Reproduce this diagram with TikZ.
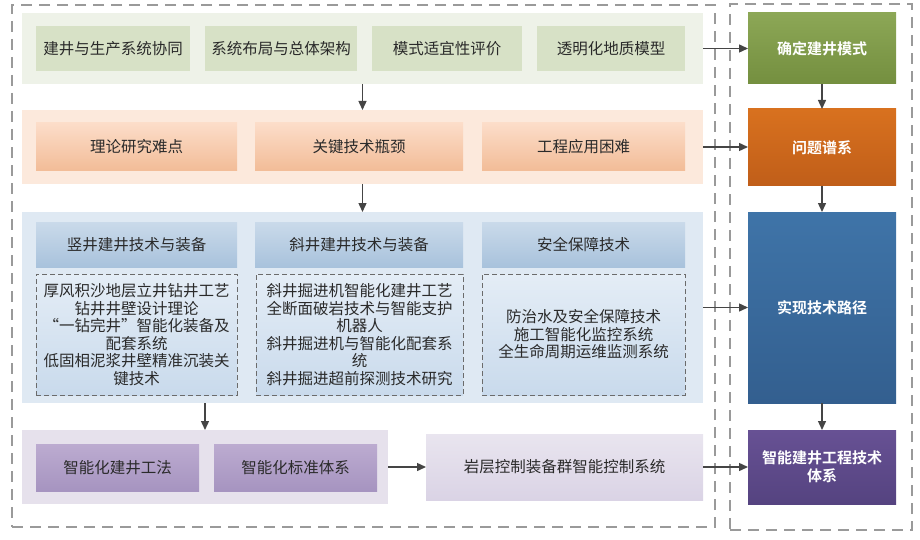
\documentclass[tikz,border=0pt]{standalone}
\usepackage{fontspec}
\setmainfont{Noto Sans CJK SC}[BoldFont={Noto Sans CJK SC Bold}]
\usetikzlibrary{arrows.meta}
\definecolor{txt}{HTML}{2A2A2A}
\definecolor{arrowc}{HTML}{454545}
\definecolor{frame}{HTML}{9A9A9A}
\definecolor{gband}{HTML}{EEF2E8}
\definecolor{gbox}{HTML}{D7E1C6}
\definecolor{oband}{HTML}{FCE9DC}
\definecolor{oboxt}{HTML}{FCDDC9}
\definecolor{oboxb}{HTML}{F2BC97}
\definecolor{bband}{HTML}{DFE9F3}
\definecolor{bheadt}{HTML}{CADAEA}
\definecolor{bheadb}{HTML}{A8C2DC}
\definecolor{bdasht}{HTML}{E4EDF6}
\definecolor{bdashb}{HTML}{C9DAEC}
\definecolor{pband}{HTML}{E6E1EC}
\definecolor{pboxt}{HTML}{BCABD0}
\definecolor{pboxb}{HTML}{A694C0}
\definecolor{prockt}{HTML}{E9E5EF}
\definecolor{prockb}{HTML}{DAD3E5}
\definecolor{rgt}{HTML}{8CA756}
\definecolor{rgb}{HTML}{748F3F}
\definecolor{rot}{HTML}{D8711F}
\definecolor{rob}{HTML}{C05E19}
\definecolor{rbt}{HTML}{3F74A8}
\definecolor{rbb}{HTML}{335F8F}
\definecolor{rpt}{HTML}{675194}
\definecolor{rpb}{HTML}{554380}
\begin{document}
\begin{tikzpicture}[x=1pt,y=-1pt,
  every node/.style={inner sep=0pt, outer sep=0pt, text=txt, align=center,
    font=\fontsize{15.5}{17.5}\selectfont},
  frm/.style={draw=frame, line width=1.3pt, dash pattern=on 11pt off 7pt},
  band/.style={fill=#1},
  flat/.style={fill=#1},
  grad/.style n args={2}{top color=#1, bottom color=#2},
  dbox/.style={draw=black!58, line width=0.9pt, dash pattern=on 5pt off 3pt,
    top color=bdasht, bottom color=bdashb},
  rbox/.style={text=white, font=\fontsize{15}{18}\selectfont\bfseries},
  arr/.style={draw=arrowc, line width=1.4pt, -{Triangle[length=9pt,width=8pt]}}
]
\useasboundingbox (0,0) rectangle (920,540);

% outer frames
\node[frm, minimum width=703pt, minimum height=522pt] (lframe) at (363.5,266) {};
\node[frm, minimum width=182pt, minimum height=526pt] (rframe) at (821,267) {};

% row 1
\node[band=gband, minimum width=681pt, minimum height=71pt] (r1) at (362.5,48.5) {};
\node[flat=gbox, minimum width=154pt, minimum height=45pt] (a1) at (113,48.5) {建井与生产系统协同};
\node[flat=gbox, minimum width=152pt, minimum height=45pt] (a2) at (281,48.5) {系统布局与总体架构};
\node[flat=gbox, minimum width=150pt, minimum height=45pt] (a3) at (447,48.5) {模式适宜性评价};
\node[flat=gbox, minimum width=148pt, minimum height=45pt] (a4) at (611,48.5) {透明化地质模型};

% row 2
\node[band=oband, minimum width=681pt, minimum height=74pt] (r2) at (362.5,147) {};
\node[grad={oboxt}{oboxb}, minimum width=201pt, minimum height=48pt] (b1) at (136.5,147) {理论研究难点};
\node[grad={oboxt}{oboxb}, minimum width=208pt, minimum height=48pt] (b2) at (359,147) {关键技术瓶颈};
\node[grad={oboxt}{oboxb}, minimum width=203pt, minimum height=48pt] (b3) at (583.5,147) {工程应用困难};

% row 3
\node[band=bband, minimum width=681pt, minimum height=191pt] (r3) at (362.5,307.5) {};
\node[grad={bheadt}{bheadb}, minimum width=201pt, minimum height=45pt] (c1) at (136.5,244.5) {竖井建井技术与装备};
\node[grad={bheadt}{bheadb}, minimum width=208pt, minimum height=45pt] (c2) at (359,244.5) {斜井建井技术与装备};
\node[grad={bheadt}{bheadb}, minimum width=203pt, minimum height=45pt] (c3) at (583.5,244.5) {安全保障技术};
\node[dbox, minimum width=201pt, minimum height=121pt] (d1) at (136.5,334.5)
  {厚风积沙地层立井钻井工艺\\钻井井壁设计理论\\“一钻完井”智能化装备及\\配套系统\\低固相泥浆井壁精准沉装关\\键技术};
\node[dbox, minimum width=207pt, minimum height=121pt] (d2) at (359.5,334.5)
  {斜井掘进机智能化建井工艺\\全断面破岩技术与智能支护\\机器人\\斜井掘进机与智能化配套系\\统\\斜井掘进超前探测技术研究};
\node[dbox, minimum width=203pt, minimum height=121pt] (d3) at (583.5,334.5)
  {防治水及安全保障技术\\施工智能化监控系统\\全生命周期运维监测系统};

% row 4
\node[band=pband, minimum width=366pt, minimum height=74pt] (r4) at (205,467) {};
\node[grad={pboxt}{pboxb}, minimum width=163pt, minimum height=47pt] (e1) at (117.5,467.5) {智能化建井工法};
\node[grad={pboxt}{pboxb}, minimum width=163pt, minimum height=47pt] (e2) at (295.5,467.5) {智能化标准体系};
\node[grad={prockt}{prockb}, minimum width=277pt, minimum height=66pt] (e3) at (564.5,467) {岩层控制装备群智能控制系统};

% right column
\node[rbox, grad={rgt}{rgb}, minimum width=148pt, minimum height=71pt] (s1) at (822,48.5) {确定建井模式};
\node[rbox, grad={rot}{rob}, minimum width=148pt, minimum height=77pt] (s2) at (822,147.5) {问题谱系};
\node[rbox, grad={rbt}{rbb}, minimum width=148pt, minimum height=191pt] (s3) at (822,307.5) {实现技术路径};
\node[rbox, grad={rpt}{rpb}, minimum width=148pt, minimum height=74pt] (s4) at (822,467) {智能建井工程技术\\体系};

% connectors
\draw[arr] (r1.south) -- (r2.north);
\draw[arr] (r2.south) -- (r3.north);
\draw[arr] (r3.south -| r4.north) -- (r4.north);
\draw[arr] (r4.east) -- (e3.west);
\draw[arr] (r1.east) -- (s1.west);
\draw[arr] (r2.east) -- (r2.east -| s2.west);
\draw[arr] (r3.east) -- (s3.west);
\draw[arr] (e3.east) -- (s4.west);
\draw[arr] (s1.south) -- (s2.north);
\draw[arr] (s2.south) -- (s3.north);
\draw[arr] (s3.south) -- (s4.north);
\end{tikzpicture}
\end{document}
